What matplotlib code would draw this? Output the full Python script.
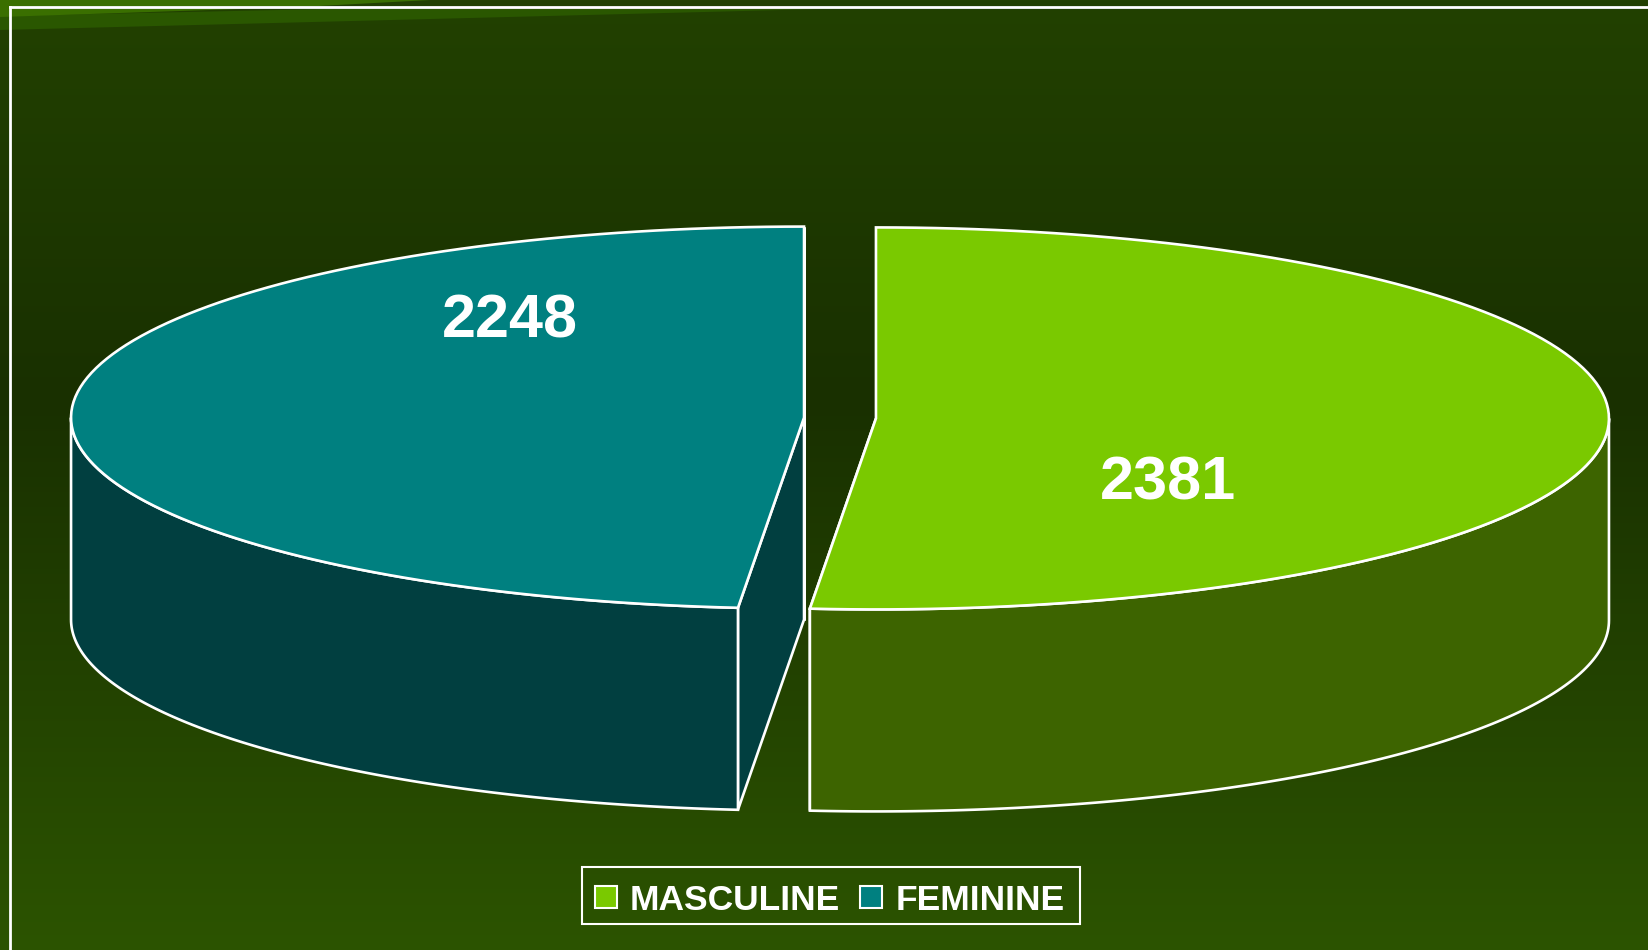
import numpy as np
import matplotlib.pyplot as plt
from matplotlib.patches import Polygon, Rectangle

# Data
labels = ['MASCULINE', 'FEMININE']
values = [2381, 2248]
top_colors = ['#7ac900', '#008080']
side_colors = ['#3d6400', '#013f40']

plt.rcParams['font.family'] = ['Liberation Sans', 'DejaVu Sans']

W, H = 1648, 950
fig = plt.figure(figsize=(W / 100, H / 100), dpi=100)
ax = fig.add_axes([0, 0, 1, 1])
ax.set_xlim(0, W)
ax.set_ylim(H, 0)
ax.axis('off')

# background gradient
ys = np.arange(H)
sy = [0, 400, 950]
rgb = np.stack([np.interp(ys, sy, [34, 25, 44]),
                np.interp(ys, sy, [65, 48, 84]),
                np.interp(ys, sy, [0, 0, 0])], axis=1) / 255.0
ax.imshow(np.repeat(rgb[:, None, :], 2, axis=1), extent=[0, W, H, 0],
          aspect='auto', zorder=0)

# light streak top-left
ax.add_patch(Polygon([(0, 16), (420, 7), (900, 7), (0, 30)], closed=True,
                     facecolor='#2a5700', edgecolor='none', zorder=0.5))
ax.add_patch(Polygon([(0, 0), (430, 0), (300, 7), (0, 17)], closed=True,
                     facecolor='#3a6f00', edgecolor='none', zorder=0.5))

# frame
ax.plot([10, 10], [7, H], color='white', lw=2, zorder=1)
ax.plot([10, W], [7, 7], color='white', lw=2, zorder=1)

# 3D pie
cx0, cy = 840, 418
a, b = 733, 191
depth = 202
explode = 36
lw = 1.9

total = sum(values)
t1 = 90.0
slices = []
for v in values:
    ext = 360.0 * v / total
    slices.append((t1 - ext, t1))
    t1 -= ext


def pt(c, t, dz=0):
    r = np.radians(t)
    return (c[0] + a * np.cos(r), c[1] - b * np.sin(r) + dz)


def arc(c, ta, tb, dz=0, n=120):
    ts = np.linspace(ta, tb, n)
    return [pt(c, t, dz) for t in ts]


for i, (ta, tb) in enumerate(slices):
    mid = np.radians((ta + tb) / 2)
    c = (cx0 + explode * np.cos(mid), cy - explode * (b / a) * np.sin(mid))

    # radial cut faces
    for t in (ta, tb):
        p = pt(c, t)
        quad = [c, p, (p[0], p[1] + depth), (c[0], c[1] + depth)]
        ax.add_patch(Polygon(quad, closed=True, facecolor=side_colors[i],
                             edgecolor='white', lw=lw, zorder=2))

    # outer side wall (front half only)
    for k in (-1, 0, 1):
        lo = max(ta, -180 + 360 * k)
        hi = min(tb, 360 * k)
        if hi > lo:
            wall = arc(c, lo, hi) + arc(c, hi, lo, dz=depth)
            ax.add_patch(Polygon(wall, closed=True, facecolor=side_colors[i],
                                 edgecolor='white', lw=lw, zorder=3))

    # top face
    top = [c] + arc(c, ta, tb)
    ax.add_patch(Polygon(top, closed=True, facecolor=top_colors[i],
                         edgecolor='white', lw=lw, zorder=4,
                         joinstyle='miter'))

# value labels
label_pos = [(1168, 500), (510, 337)]
for v, (x, y) in zip(values, label_pos):
    ax.text(x, y, str(v), color='white', fontsize=44, fontweight='bold',
            ha='center', va='baseline', zorder=5)

# legend
ax.add_patch(Rectangle((582, 867), 498, 57, facecolor='none',
                       edgecolor='white', lw=1.5, zorder=5))
marker_x = [595, 860]
text_x = [630, 896]
for i, lab in enumerate(labels):
    ax.add_patch(Rectangle((marker_x[i], 886), 22, 22,
                           facecolor=top_colors[i], edgecolor='white',
                           lw=1.5, zorder=5))
    ax.text(text_x[i], 910, lab, color='white', fontsize=25.5,
            fontweight='bold', ha='left', va='baseline', zorder=5)

fig.savefig('out.png', dpi=100)
